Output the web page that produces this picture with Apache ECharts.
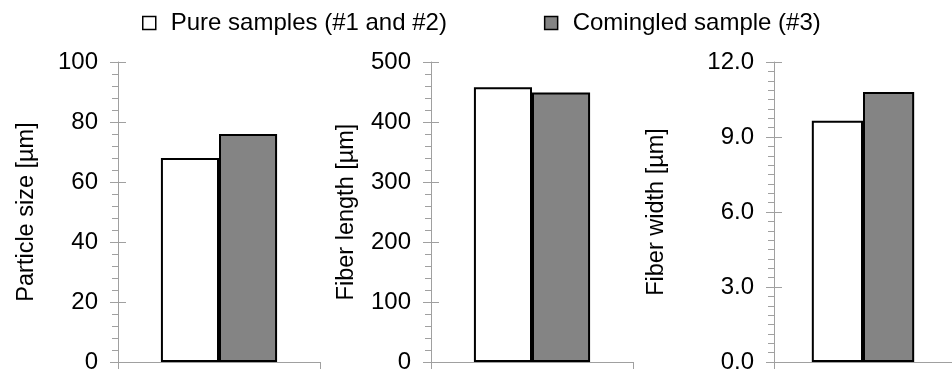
<!DOCTYPE html>
<html><head><meta charset="utf-8">
<script src="https://cdn.jsdelivr.net/npm/echarts@6/dist/echarts.min.js"></script>
<style>html,body{margin:0;padding:0;background:#fff}#c{width:952px;height:374px}</style>
</head><body><div id="c"></div>
<script>
// ---- data ----
const seriesNames = ['Pure samples (#1 and #2)', 'Comingled sample (#3)'];
const panelTitles = ['Particle size [µm]', 'Fiber length [µm]', 'Fiber width [µm]'];
const pureValues = [68, 458, 9.65];
const comingledValues = [76, 449, 10.8];
const axisMax = [100, 500, 12];
const axisInterval = [20, 100, 3];
const labelDecimals = [0, 0, 1];
const minorSplits = [5, 5, 8];
const categories = [''];

// ---- layout / style ----
const FONT = "'Liberation Sans', Arial, sans-serif";
const AXIS_COLOR = '#a0a0a0';
const GRAY = '#848484';
const gridDefs = [
  {left: 118, width: 202, nameGap: 79},
  {left: 431, width: 202, nameGap: 72},
  {left: 774, width: 180, nameGap: 105}
];

const grid = [], xAxis = [], yAxis = [], series = [];
gridDefs.forEach((g, i) => {
  grid.push({left: g.left, width: g.width, top: 62, bottom: 8, containLabel: false});
  xAxis.push({
    type: 'category', gridIndex: i, data: categories,
    axisLine: {show: true, lineStyle: {color: AXIS_COLOR, width: 1}},
    axisTick: {show: true, length: 7, lineStyle: {color: AXIS_COLOR}},
    axisLabel: {show: false}, splitLine: {show: false}
  });
  const primaryIndex = yAxis.length;
  yAxis.push({
    type: 'value', gridIndex: i, position: 'left', min: 0, max: axisMax[i], interval: axisInterval[i],
    name: panelTitles[i], nameLocation: 'middle', nameGap: g.nameGap,
    nameTextStyle: {fontFamily: FONT, fontSize: 23.5, color: '#000'},
    axisLine: {show: true, lineStyle: {color: AXIS_COLOR, width: 1}},
    axisTick: {show: true, inside: false, length: 8, lineStyle: {color: AXIS_COLOR}},
    minorTick: {show: true, splitNumber: minorSplits[i], length: 6, lineStyle: {color: AXIS_COLOR}},
    axisLabel: {fontFamily: FONT, fontSize: 24, color: '#000', margin: 20,
      formatter: v => v.toFixed(labelDecimals[i])},
    splitLine: {show: false}
  });
  yAxis.push({
    type: 'value', gridIndex: i, position: 'left', min: 0, max: axisMax[i], interval: axisInterval[i],
    axisLine: {show: false},
    axisTick: {show: true, inside: true, length: 8, lineStyle: {color: AXIS_COLOR}},
    axisLabel: {show: false}, splitLine: {show: false}
  });
  series.push({
    type: 'bar', name: seriesNames[0], xAxisIndex: i, yAxisIndex: primaryIndex,
    data: [pureValues[i]], barGap: '0%', barCategoryGap: '42.5%',
    itemStyle: {color: '#ffffff', borderColor: '#000', borderWidth: 2},
    emphasis: {disabled: true}
  });
  series.push({
    type: 'bar', name: seriesNames[1], xAxisIndex: i, yAxisIndex: primaryIndex,
    data: [comingledValues[i]], barGap: '0%', barCategoryGap: '42.5%',
    itemStyle: {color: GRAY, borderColor: '#000', borderWidth: 2},
    emphasis: {disabled: true}
  });
});

const chart = echarts.init(document.getElementById('c'));
chart.setOption({
  animation: false,
  textStyle: {fontFamily: FONT},
  legend: {
    left: 137, top: 6, itemWidth: 13, itemHeight: 13, itemGap: 97,
    icon: 'rect',
    textStyle: {fontFamily: FONT, fontSize: 24, color: '#000', padding: [0, 0, 0, 10]},
    data: [
      {name: seriesNames[0], itemStyle: {color: '#fff', borderColor: '#000', borderWidth: 1.5}},
      {name: seriesNames[1], itemStyle: {color: GRAY, borderColor: '#000', borderWidth: 1.5}}
    ]
  },
  grid, xAxis, yAxis, series
});
</script></body></html>
